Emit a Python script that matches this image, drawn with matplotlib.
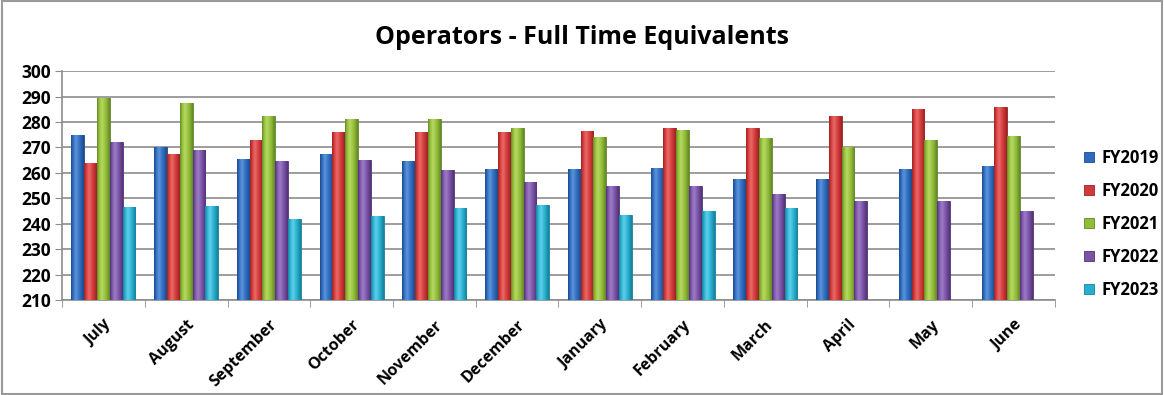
import numpy as np
import matplotlib.pyplot as plt
from matplotlib.patches import Rectangle
from matplotlib.colors import LinearSegmentedColormap

months = ['July', 'August', 'September', 'October', 'November', 'December',
          'January', 'February', 'March', 'April', 'May', 'June']
fy2019 = [275, 270, 265.5, 267.5, 264.5, 261.5, 261.5, 262, 257.5, 257.5, 261.5, 262.5]
fy2020 = [264, 267.5, 273, 276, 276, 276, 276.5, 277.5, 277.5, 282.5, 285, 286]
fy2021 = [289.5, 287.5, 282.5, 281, 281, 277.5, 274, 277, 273.5, 270, 273, 274.5]
fy2022 = [272, 269, 264.5, 265, 261, 256.5, 255, 255, 251.5, 249, 249, 245]
fy2023 = [246.5, 247, 242, 243, 246, 247.5, 243.5, 245, 246, np.nan, np.nan, np.nan]
series_names = ['FY2019', 'FY2020', 'FY2021', 'FY2022', 'FY2023']

series = [fy2019, fy2020, fy2021, fy2022, fy2023]
colors = ['#2f6bbd', '#d2393a', '#92bd36', '#7a52a6', '#27afce']
darks = ['#1d4a8c', '#9a2323', '#62872a', '#513276', '#17809a']
lights = ['#5b94dc', '#e96a66', '#b5d865', '#9c7dc6', '#5fd0ea']

plt.rcParams['font.family'] = ['Open Sans', 'DejaVu Sans']

fig = plt.figure(figsize=(11.64, 3.95), dpi=100)
ax = fig.add_axes([0.0533, 0.2405, 0.853, 0.5795])

x = np.arange(len(months))
w = 0.155
grad = np.linspace(0, 1, 64).reshape(1, -1)
for i, vals in enumerate(series):
    pos = x + (i - 2) * w
    bars = ax.bar(pos, np.array(vals) - 210, bottom=210, width=w, color=colors[i],
                  edgecolor=darks[i], linewidth=0.6, label=series_names[i], zorder=3)
    cmap = LinearSegmentedColormap.from_list(
        'c%d' % i, [(0, darks[i]), (0.15, colors[i]), (0.38, lights[i]),
                    (0.7, colors[i]), (1, darks[i])])
    # cylinder-like shading inside each bar
    for b in bars:
        if np.isnan(b.get_height()):
            continue
        x0, y0 = b.get_x(), b.get_y()
        im = ax.imshow(grad, cmap=cmap, aspect='auto', zorder=3.5,
                       extent=(x0, x0 + b.get_width(), y0, y0 + b.get_height()))
        im.set_clip_path(b)

ax.set_ylim(210, 300)
ax.set_xlim(-0.5, 11.5)
ax.set_yticks(np.arange(210, 301, 10))
ax.yaxis.grid(True, color='#8c8c8c', linewidth=1.2, zorder=0)
ax.set_axisbelow(True)

ax.set_xticks(x)
ax.set_xticklabels(months, rotation=45, ha='right', rotation_mode='anchor',
                   fontsize=11.5, fontweight='bold')
ax.tick_params(axis='x', length=0, pad=12)
ax.set_xticks(np.arange(-0.5, 12, 1), minor=True)
ax.tick_params(axis='x', which='minor', length=5, color='#8c8c8c')
ax.tick_params(axis='y', labelsize=12.5, length=5, color='#8c8c8c', pad=3)
for lab in ax.get_yticklabels():
    lab.set_fontweight('bold')

for s in ['top', 'right']:
    ax.spines[s].set_visible(False)
for s in ['left', 'bottom']:
    ax.spines[s].set_color('#8c8c8c')
    ax.spines[s].set_linewidth(1.2)

fig.text(0.5, 0.905, 'Operators - Full Time Equivalents', ha='center', va='center',
         fontsize=18, fontweight='bold')

leg = fig.legend(loc='center left', bbox_to_anchor=(0.918, 0.433), frameon=False,
                 prop={'weight': 'bold', 'size': 12}, handlelength=0.6,
                 handleheight=0.6, labelspacing=0.9, handletextpad=0.45)

fig.patches.append(Rectangle((0.002, 0.003), 0.996, 0.994, transform=fig.transFigure,
                             fill=False, edgecolor='#9a9a9a', linewidth=1.5))

fig.savefig('out.png', dpi=100)
